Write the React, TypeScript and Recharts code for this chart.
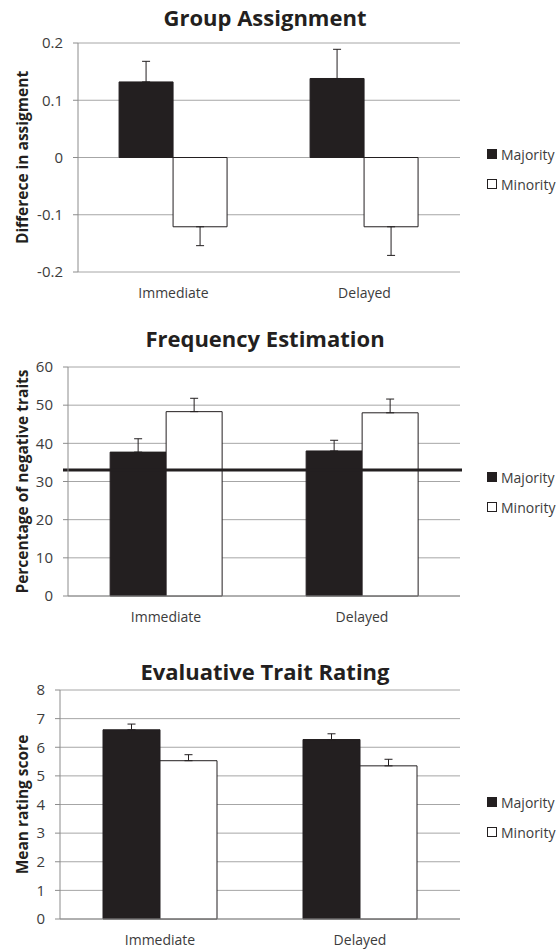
import React from 'react';
import { BarChart, Bar, XAxis, YAxis, CartesianGrid, ErrorBar, ReferenceLine, Legend } from 'recharts';

const categories = ['Immediate', 'Delayed'];

// Group Assignment
const assignMajority = [0.132, 0.138];
const assignMajorityErr = [0.036, 0.051];
const assignMinority = [-0.121, -0.121];
const assignMinorityErr = [0.033, 0.05];
const assignTicks = [-0.2, -0.1, 0, 0.1, 0.2];

// Frequency Estimation
const freqMajority = [37.7, 38.0];
const freqMajorityErr = [3.5, 2.8];
const freqMinority = [48.3, 48.0];
const freqMinorityErr = [3.5, 3.6];
const freqBaseline = 33;
const freqTicks = [0, 10, 20, 30, 40, 50, 60];

// Evaluative Trait Rating
const ratingMajority = [6.61, 6.27];
const ratingMajorityErr = [0.2, 0.2];
const ratingMinority = [5.53, 5.35];
const ratingMinorityErr = [0.21, 0.23];
const ratingTicks = [0, 1, 2, 3, 4, 5, 6, 7, 8];

const FONT = "'Open Sans', sans-serif";
const INK = '#231f20';
const GRID = '#a6a6a6';
const AXIS = '#8c8c8c';
const TEXT = '#3c3c3c';

// one-sided error bars: only the half that sticks out of the bar
const oneSided = (v: number, e: number) => (v >= 0 ? [0, e] : [e, 0]);

const buildRows = (maj: number[], majErr: number[], min: number[], minErr: number[]) =>
  categories.map((name, i) => ({
    name,
    majority: maj[i],
    minority: min[i],
    majorityErr: oneSided(maj[i], majErr[i]),
    minorityErr: oneSided(min[i], minErr[i]),
  }));

const renderLegend = (props: any) => (
  <div style={{ fontFamily: FONT, fontSize: 14, color: TEXT }}>
    {(props.payload || []).map((entry: any) => (
      <div key={entry.value} style={{ display: 'flex', alignItems: 'center', height: 30, whiteSpace: 'nowrap' }}>
        <span
          style={{
            display: 'inline-block',
            width: 8,
            height: 8,
            background: entry.color,
            border: `1px solid ${INK}`,
            marginRight: 4,
          }}
        />
        {entry.value}
      </div>
    ))}
  </div>
);

interface PanelProps {
  top: number;
  height: number;
  title: string;
  titleTop: number;
  yLabel: string;
  rows: any[];
  ticks: number[];
  yWidth: number;
  marginTop: number;
  marginBottom: number;
  legendTop: number;
  edgeTicks?: boolean;
  baseline?: number;
}

const Panel = ({ top, height, title, titleTop, yLabel, rows, ticks, yWidth, marginTop, marginBottom, legendTop, edgeTicks, baseline }: PanelProps) => {
  const mainId = edgeTicks ? 1 : 0;
  return (
    <div style={{ position: 'absolute', left: 0, top, width: 559, height }}>
      <BarChart
        width={559}
        height={height}
        data={rows}
        margin={{ top: marginTop, right: 99, left: 0, bottom: marginBottom }}
        barCategoryGap="21.5%"
        barGap={0}
      >
        <CartesianGrid vertical={false} stroke={GRID} strokeWidth={1} />
        {edgeTicks && (
          <XAxis
            xAxisId={0}
            type="number"
            domain={[0, 2]}
            ticks={[0, 1, 2]}
            tick={false}
            tickSize={5}
            tickLine={{ stroke: AXIS }}
            axisLine={false}
            height={0}
          />
        )}
        <XAxis
          xAxisId={mainId}
          dataKey="name"
          axisLine={edgeTicks ? { stroke: AXIS } : false}
          tickLine={false}
          tickSize={0}
          tickMargin={16}
          height={30}
          tick={{ fill: TEXT, fontSize: 14, fontFamily: FONT }}
        />
        <YAxis
          width={yWidth}
          domain={[ticks[0], ticks[ticks.length - 1]]}
          ticks={ticks}
          interval={0}
          axisLine={{ stroke: AXIS }}
          tickLine={{ stroke: AXIS }}
          tickSize={5}
          tickMargin={10}
          tick={{ fill: TEXT, fontSize: 15, fontFamily: FONT }}
          label={{
            value: yLabel,
            angle: -90,
            position: 'insideLeft',
            offset: 22,
            style: { textAnchor: 'middle', fontWeight: 700, fontSize: 15.5, fill: INK, fontFamily: FONT },
          }}
        />
        <Bar xAxisId={mainId} dataKey="majority" name="Majority" fill={INK} stroke={INK} strokeWidth={1} isAnimationActive={false}>
          <ErrorBar dataKey="majorityErr" direction="y" width={4} stroke={INK} strokeWidth={1} />
        </Bar>
        <Bar xAxisId={mainId} dataKey="minority" name="Minority" fill="#ffffff" stroke={INK} strokeWidth={1} isAnimationActive={false}>
          <ErrorBar dataKey="minorityErr" direction="y" width={4} stroke={INK} strokeWidth={1} />
        </Bar>
        {baseline !== undefined && (
          <ReferenceLine
            y={baseline}
            stroke={INK}
            strokeWidth={3}
            shape={(p: any) => (
              <line x1={p.x1 - 5} y1={p.y1} x2={p.x2 + 2} y2={p.y2} stroke={INK} strokeWidth={3} />
            )}
          />
        )}
        <Legend
          layout="vertical"
          align="center"
          verticalAlign="middle"
          content={renderLegend}
          wrapperStyle={{ position: 'absolute', left: 487, top: legendTop, width: 72 }}
        />
      </BarChart>
      <div
        style={{
          position: 'absolute',
          left: 0,
          top: titleTop,
          width: 530,
          textAlign: 'center',
          fontFamily: FONT,
          fontWeight: 700,
          fontSize: 22,
          lineHeight: '28px',
          color: INK,
        }}
      >
        {title}
      </div>
    </div>
  );
};

export default function App() {
  return (
    <div style={{ position: 'absolute', left: 0, top: 0, width: 559, height: 952, background: '#ffffff' }}>
      <Panel
        top={0}
        height={310}
        title="Group Assignment"
        titleTop={3}
        yLabel="Differece in assigment"
        rows={buildRows(assignMajority, assignMajorityErr, assignMinority, assignMinorityErr)}
        ticks={assignTicks}
        yWidth={78}
        marginTop={43}
        marginBottom={8}
        legendTop={139}
      />
      <Panel
        top={310}
        height={340}
        title="Frequency Estimation"
        titleTop={14}
        yLabel="Percentage of negative traits"
        rows={buildRows(freqMajority, freqMajorityErr, freqMinority, freqMinorityErr)}
        ticks={freqTicks}
        yWidth={68}
        marginTop={57}
        marginBottom={24}
        legendTop={152}
        edgeTicks
        baseline={freqBaseline}
      />
      <Panel
        top={650}
        height={302}
        title="Evaluative Trait Rating"
        titleTop={7}
        yLabel="Mean rating score"
        rows={buildRows(ratingMajority, ratingMajorityErr, ratingMinority, ratingMinorityErr)}
        ticks={ratingTicks}
        yWidth={60}
        marginTop={40}
        marginBottom={3}
        legendTop={137}
        edgeTicks
      />
    </div>
  );
}
